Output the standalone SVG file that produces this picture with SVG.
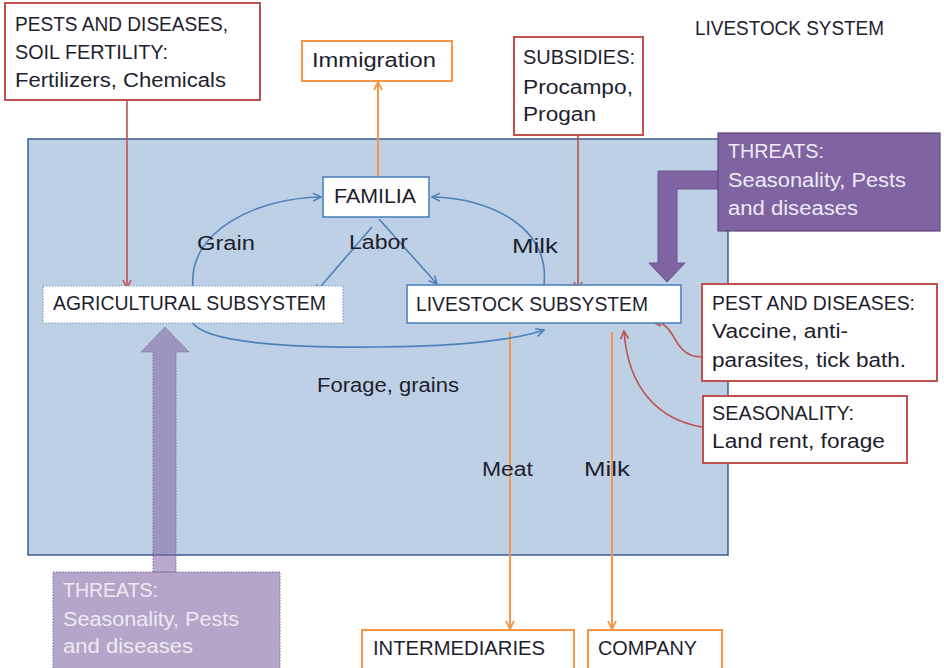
<svg xmlns="http://www.w3.org/2000/svg" width="944" height="668" viewBox="0 0 944 668">
  <style>
    text { font-family: "Liberation Sans", Arial, sans-serif; font-size: 20px; fill: #1e1e2e; }
    .lt { fill: #eeeaf6; }
    .box-red { fill: #ffffff; stroke: #c0504d; stroke-width: 2; }
    .box-org { fill: #ffffff; stroke: #f79646; stroke-width: 2; }
    .box-blue { fill: #ffffff; stroke: #4f81bd; stroke-width: 1.6; }
    .box-dot { fill: #ffffff; stroke: #7f9cc4; stroke-width: 1.2; stroke-dasharray: 1.5 1.5; }
    .c-blue { fill: none; stroke: #4f81bd; stroke-width: 1.6; marker-end: url(#ah-blue); }
    .c-red { fill: none; stroke: #c0504d; stroke-width: 1.6; marker-end: url(#ah-red); }
    .c-org { fill: none; stroke: #f79646; stroke-width: 2; marker-end: url(#ah-org); }
  </style>
  <defs>
    <marker id="ah-blue" viewBox="0 0 10 10" refX="9" refY="5" markerWidth="10" markerHeight="10" markerUnits="userSpaceOnUse" orient="auto">
      <path d="M1,1 L9,5 L1,9" fill="none" stroke="#4f81bd" stroke-width="1.6"/>
    </marker>
    <marker id="ah-red" viewBox="0 0 10 10" refX="9" refY="5" markerWidth="10" markerHeight="10" markerUnits="userSpaceOnUse" orient="auto">
      <path d="M1,1 L9,5 L1,9" fill="none" stroke="#c0504d" stroke-width="1.6"/>
    </marker>
    <marker id="ah-org" viewBox="0 0 10 10" refX="9" refY="5" markerWidth="10" markerHeight="10" markerUnits="userSpaceOnUse" orient="auto">
      <path d="M1,1 L9,5 L1,9" fill="none" stroke="#f79646" stroke-width="1.8"/>
    </marker>
  </defs>

  <rect width="944" height="668" fill="#ffffff"/>

  <!-- system boundary -->
  <g id="livestock-system">
    <rect x="28" y="139" width="700" height="416" fill="#bdd0e5" stroke="#385d8a" stroke-width="1.5"/>
    <text x="695" y="35" textLength="189" lengthAdjust="spacingAndGlyphs">LIVESTOCK SYSTEM</text>
  </g>

  <!-- connectors -->
  <g id="connectors">
    <!-- inputs (red) -->
    <path class="c-red" d="M127,100 L127,288"/>
    <path class="c-red" d="M578,135 L578,290"/>
    <path class="c-red" d="M702,357 C684,357 678,345 672,334 C667,326 662,322 653,322"/>
    <path class="c-red" d="M702,427 C660,420 628,390 624,331"/>
    <!-- outputs (orange) -->
    <path class="c-org" d="M378,178 L378,82"/>
    <path class="c-org" d="M510,332 L510,629"/>
    <path class="c-org" d="M612,332 L612,629"/>
    <!-- internal flows (blue) -->
    <path class="c-blue" d="M193,286 C188,232 255,198 321,197"/>
    <path class="c-blue" d="M544,285 C550,228 492,198 432,197"/>
    <path class="c-blue" d="M379,219 L437,284"/>
    <path class="c-blue" d="M372,227 L315,293"/>
    <path class="c-blue" d="M192,322 C205,344 300,348 380,347 C460,346 515,340 544,330"/>
    <text x="197" y="250" textLength="58" lengthAdjust="spacingAndGlyphs">Grain</text>
    <text x="349" y="249" textLength="59" lengthAdjust="spacingAndGlyphs">Labor</text>
    <text x="512" y="253" textLength="46" lengthAdjust="spacingAndGlyphs">Milk</text>
    <text x="317" y="392" textLength="142" lengthAdjust="spacingAndGlyphs">Forage, grains</text>
    <text x="482" y="476" textLength="51" lengthAdjust="spacingAndGlyphs">Meat</text>
    <text x="584" y="476" textLength="46" lengthAdjust="spacingAndGlyphs">Milk</text>
  </g>

  <g id="pests-soil">
    <rect class="box-red" x="5" y="3" width="255" height="97"/>
    <text x="15" y="31" textLength="213" lengthAdjust="spacingAndGlyphs">PESTS AND DISEASES,</text>
    <text x="15" y="59" textLength="153" lengthAdjust="spacingAndGlyphs">SOIL FERTILITY:</text>
    <text x="15" y="87" textLength="211" lengthAdjust="spacingAndGlyphs">Fertilizers, Chemicals</text>
  </g>

  <g id="immigration">
    <rect class="box-org" x="302" y="41" width="150" height="40"/>
    <text x="312" y="67" textLength="124" lengthAdjust="spacingAndGlyphs">Immigration</text>
  </g>

  <g id="subsidies">
    <rect class="box-red" x="514" y="37" width="129" height="98"/>
    <text x="523" y="64" textLength="112" lengthAdjust="spacingAndGlyphs">SUBSIDIES:</text>
    <text x="523" y="94" textLength="110" lengthAdjust="spacingAndGlyphs">Procampo,</text>
    <text x="523" y="121" textLength="73" lengthAdjust="spacingAndGlyphs">Progan</text>
  </g>

  <g id="threats-livestock">
    <path d="M718,171 L658,171 L658,263 L649,263 L667,282 L685,263 L677,263 L677,189 L718,189 Z" fill="#8064a2" stroke="#6a5290" stroke-width="1"/>
    <rect x="718" y="133" width="222" height="98" fill="#8064a2" stroke="#5f497a" stroke-width="1.2"/>
    <text class="lt" x="728" y="158" textLength="96" lengthAdjust="spacingAndGlyphs">THREATS:</text>
    <text class="lt" x="728" y="187" textLength="178" lengthAdjust="spacingAndGlyphs">Seasonality, Pests</text>
    <text class="lt" x="728" y="215" textLength="130" lengthAdjust="spacingAndGlyphs">and diseases</text>
  </g>

  <g id="familia">
    <rect class="box-blue" x="323" y="177" width="106" height="40"/>
    <text x="334" y="203" textLength="82" lengthAdjust="spacingAndGlyphs">FAMILIA</text>
  </g>

  <g id="agricultural-subsystem">
    <rect class="box-dot" x="43" y="286" width="300" height="37"/>
    <text x="53" y="310" textLength="273" lengthAdjust="spacingAndGlyphs">AGRICULTURAL SUBSYSTEM</text>
  </g>

  <g id="livestock-subsystem">
    <rect class="box-blue" x="407" y="285" width="274" height="38"/>
    <text x="416" y="311" textLength="232" lengthAdjust="spacingAndGlyphs">LIVESTOCK SUBSYSTEM</text>
  </g>

  <g id="pest-diseases">
    <rect class="box-red" x="702" y="284" width="235" height="97"/>
    <text x="712" y="310" textLength="203" lengthAdjust="spacingAndGlyphs">PEST AND DISEASES:</text>
    <text x="712" y="338" textLength="136" lengthAdjust="spacingAndGlyphs">Vaccine, anti-</text>
    <text x="712" y="367" textLength="194" lengthAdjust="spacingAndGlyphs">parasites, tick bath.</text>
  </g>

  <g id="seasonality">
    <rect class="box-red" x="703" y="396" width="204" height="67"/>
    <text x="712" y="420" textLength="142" lengthAdjust="spacingAndGlyphs">SEASONALITY:</text>
    <text x="712" y="448" textLength="173" lengthAdjust="spacingAndGlyphs">Land rent, forage</text>
  </g>

  <g id="threats-agricultural">
    <path d="M153,572 L153,352 L141,352 L165,327 L189,352 L176,352 L176,572 Z" fill="#8064a2" fill-opacity="0.55" stroke="#7a6a9e" stroke-width="1" stroke-dasharray="1.5 1.5"/>
    <rect x="53" y="572" width="227" height="100" fill="#8064a2" fill-opacity="0.58" stroke="#7a6a9e" stroke-width="1" stroke-dasharray="1.5 1.5"/>
    <text class="lt" x="63" y="597" textLength="95" lengthAdjust="spacingAndGlyphs">THREATS:</text>
    <text class="lt" x="63" y="626" textLength="176" lengthAdjust="spacingAndGlyphs">Seasonality, Pests</text>
    <text class="lt" x="63" y="653" textLength="130" lengthAdjust="spacingAndGlyphs">and diseases</text>
  </g>

  <g id="intermediaries">
    <rect class="box-org" x="362" y="630" width="212" height="50"/>
    <text x="373" y="655" textLength="172" lengthAdjust="spacingAndGlyphs">INTERMEDIARIES</text>
  </g>

  <g id="company">
    <rect class="box-org" x="588" y="630" width="134" height="50"/>
    <text x="598" y="655" textLength="99" lengthAdjust="spacingAndGlyphs">COMPANY</text>
  </g>
</svg>
